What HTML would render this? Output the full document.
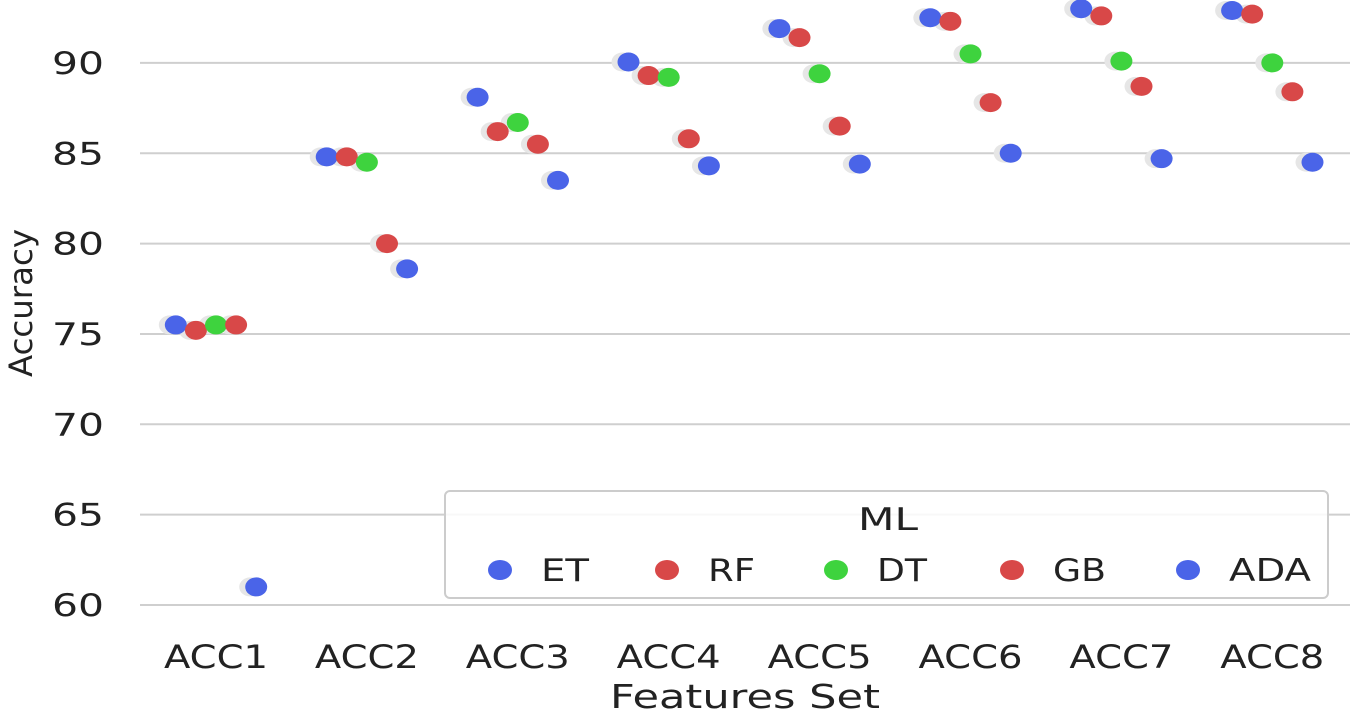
<!DOCTYPE html>
<html><head><meta charset="utf-8"><style>
html,body{margin:0;padding:0;background:#fff;}
svg{display:block;font-family:"DejaVu Sans","Liberation Sans",sans-serif;}
</style></head><body>
<svg id="chart" width="1350" height="713" viewBox="0 0 1350 713">
<g id="grid"></g><g id="marks"></g><g id="axes"></g>
</svg>
<script>
const categories=["ACC1","ACC2","ACC3","ACC4","ACC5","ACC6","ACC7","ACC8"];
const seriesNames=["ET","RF","DT","GB","ADA"];
const etVals=[75.5,84.8,88.1,90.05,91.9,92.5,93.0,92.9];
const rfVals=[75.2,84.8,86.2,89.3,91.4,92.3,92.6,92.7];
const dtVals=[75.5,84.5,86.7,89.2,89.4,90.5,90.1,90.0];
const gbVals=[75.5,80.0,85.5,85.8,86.5,87.8,88.7,88.4];
const adaVals=[61.0,78.6,83.5,84.3,84.4,85.0,84.7,84.5];
const yTicks=[60,65,70,75,80,85,90];
const colors=["#4a64e8","#d84848","#3ed33e","#d84848","#4a64e8"];
const series=[etVals,rfVals,dtVals,gbVals,adaVals];
const NS="http://www.w3.org/2000/svg";
function y(v){return 605-(v-60)*18.07;}
function x(i){return 216+i*150.9;}
function mk(t,a,p){const e=document.createElementNS(NS,t);for(const k in a)e.setAttribute(k,a[k]);p.appendChild(e);return e;}
const grid=document.getElementById('grid'),marks=document.getElementById('marks'),axes=document.getElementById('axes');
yTicks.forEach(v=>{
 const l=mk('line',{x1:140,x2:1350,y1:y(v),y2:y(v),stroke:'#cfcfcf','stroke-width':2},grid);
 
 
 const t=mk('text',{x:104,y:y(v)+11,'text-anchor':'end','font-size':31,fill:'#222',textLength:52,lengthAdjust:'spacingAndGlyphs'},axes);
 t.textContent=v;
 
 
});
categories.forEach((c,i)=>{
 const t=mk('text',{x:x(i),y:668,'text-anchor':'middle','font-size':32,fill:'#222',textLength:104,lengthAdjust:'spacingAndGlyphs'},axes);
 t.textContent=c;
 
 
});
series.forEach((vals,s)=>{
 vals.forEach((v,i)=>{
  const cx=x(i)+(s-2)*20.1;
  const sh=mk('ellipse',{cx:cx-6,cy:y(v),rx:11,ry:9.5,fill:'#e6e6e6'},marks);
  
  
 });
});
series.forEach((vals,s)=>{
 vals.forEach((v,i)=>{
  const cx=x(i)+(s-2)*20.1;
  const d=mk('ellipse',{cx:cx,cy:y(v),rx:11,ry:9.5,fill:colors[s]},marks);
  
  
 });
});
const yt=mk('text',{x:0,y:0,'text-anchor':'middle','font-size':32,fill:'#222',transform:'translate(32,303) rotate(-90)',textLength:148,lengthAdjust:'spacingAndGlyphs'},axes);
yt.textContent='Accuracy';


const xt=mk('text',{x:745,y:708,'text-anchor':'middle','font-size':33,fill:'#222',textLength:270,lengthAdjust:'spacingAndGlyphs'},axes);
xt.textContent='Features Set';


const lg=mk('g',{},axes);


mk('rect',{x:445,y:491,width:883,height:107,rx:5,fill:'#fff','fill-opacity':0.85,stroke:'#cccccc','stroke-width':2},lg);
const lt=mk('text',{x:888,y:530,'text-anchor':'middle','font-size':31,fill:'#222',textLength:60,lengthAdjust:'spacingAndGlyphs'},lg);
lt.textContent='ML';


const lx=[500,667,836,1012,1188];
const lw=[48,47,50,53,82];
seriesNames.forEach((n,s)=>{
 const e=mk('ellipse',{cx:lx[s],cy:570,rx:12,ry:10,fill:colors[s]},lg);
 
 
 const t=mk('text',{x:lx[s]+41,y:581,'font-size':31,fill:'#222',textLength:lw[s],lengthAdjust:'spacingAndGlyphs'},lg);
 t.textContent=n;
 
 
});
</script>
</body></html>
